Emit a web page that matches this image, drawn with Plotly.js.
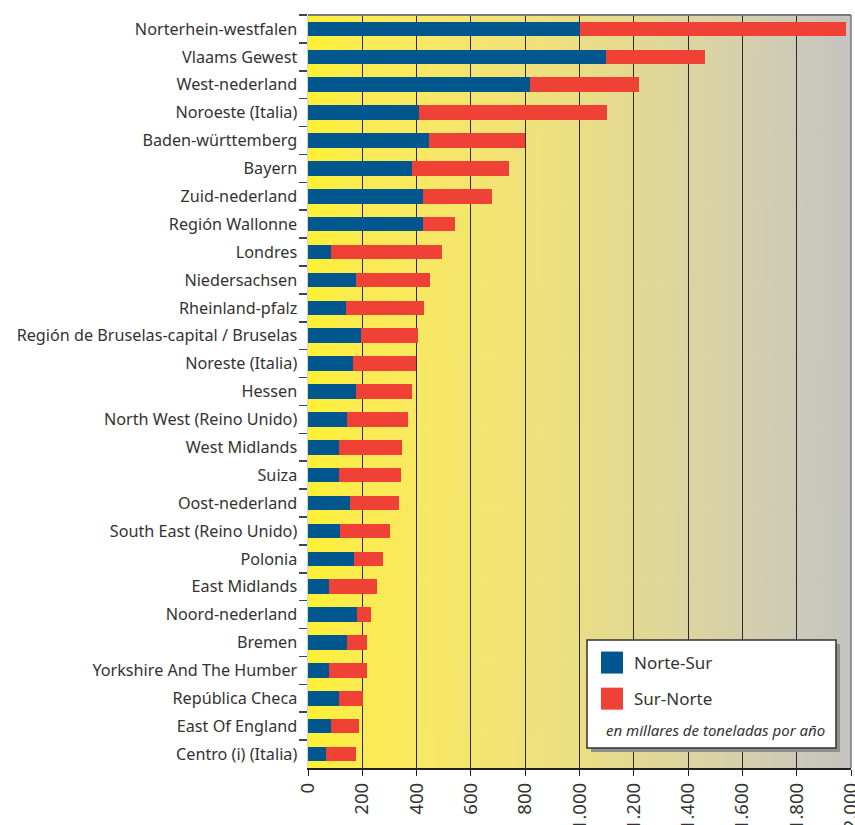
<!DOCTYPE html>
<html>
<head>
<meta charset="utf-8">
<script src="https://cdn.plot.ly/plotly-3.0.1.min.js"></script>
<style>
html,body{margin:0;padding:0;background:#fff;}
#chart{width:855px;height:825px;}
</style>
</head>
<body>
<div id="chart"></div>
<script>
const regions = [
  "Norterhein-westfalen","Vlaams Gewest","West-nederland","Noroeste (Italia)",
  "Baden-württemberg","Bayern","Zuid-nederland","Región Wallonne","Londres",
  "Niedersachsen","Rheinland-pfalz","Región de Bruselas-capital / Bruselas",
  "Noreste (Italia)","Hessen","North West (Reino Unido)","West Midlands","Suiza",
  "Oost-nederland","South East (Reino Unido)","Polonia","East Midlands",
  "Noord-nederland","Bremen","Yorkshire And The Humber","República Checa",
  "East Of England","Centro (i) (Italia)"
];
const norteSur = [1000,1097,816,407,445,382,423,423,85,176,140,195,165,176,143,114,114,154,118,169,77,180,143,77,114,85,66];
const surNorte = [983,367,402,696,354,357,253,117,408,273,286,209,232,206,225,232,228,181,183,107,177,52,74,140,88,103,110];
const seriesNames = ["Norte-Sur","Sur-Norte"];
const xTicks = [0,200,400,600,800,1000,1200,1400,1600,1800,2000];
const note = "en millares de toneladas por año";

// gradient background image (plot area)
const cv = document.createElement('canvas');
cv.width = 543; cv.height = 10;
const ctx = cv.getContext('2d');
const g = ctx.createLinearGradient(0,0,543,0);
g.addColorStop(0.00,'#FFF033');
g.addColorStop(0.08,'#FCEC4E');
g.addColorStop(0.25,'#F6E769');
g.addColorStop(0.45,'#EEE07E');
g.addColorStop(0.65,'#E0D79A');
g.addColorStop(0.85,'#D1CDB2');
g.addColorStop(1.00,'#C4C4C2');
ctx.fillStyle = g; ctx.fillRect(0,0,543,10);
const bgURL = cv.toDataURL('image/png');

const FONT = 'Noto Sans, Liberation Sans, sans-serif';

const traces = [
  {type:'bar', orientation:'h', y:regions, x:norteSur, name:seriesNames[0],
   marker:{color:'#00578E'}, legendgroup:'a', width:0.52, hoverinfo:'x+y'},
  {type:'bar', orientation:'h', y:regions, x:surNorte, name:seriesNames[1],
   marker:{color:'#EF4136'}, legendgroup:'b', width:0.52, hoverinfo:'x+y'}
];

const L = 308, R = 851, T = 15, B = 768, W = 855, H = 825;
const px = v => (v - L) / (R - L);
const py = v => (B - v) / (B - T);

const layout = {
  width: W, height: H,
  margin: {l: L, r: W - R, t: T, b: H - B, pad: 0},
  paper_bgcolor: '#ffffff',
  plot_bgcolor: 'rgba(0,0,0,0)',
  barmode: 'stack',
  separators: ',.',
  font: {family: FONT, color: '#333333', size: 15},
  showlegend: true,
  legend: {
    x: px(594), y: py(645), xanchor: 'left', yanchor: 'top',
    bgcolor: 'rgba(0,0,0,0)', borderwidth: 0,
    font: {size: 17, color: '#333333', family: FONT},
    traceorder: 'grouped', tracegroupgap: 11
  },
  xaxis: {
    range: [0, 2000], tickvals: xTicks, separatethousands: true,
    tickangle: -90, ticks: 'outside', ticklen: 6, tickcolor: '#222',
    tickfont: {size: 18.5, color: '#333333', family: FONT},
    ticklabeloverflow: 'allow',
    showgrid: true, gridcolor: '#2a2a2a', gridwidth: 1,
    showline: true, linecolor: '#222', linewidth: 1.5,
    zeroline: false, fixedrange: true
  },
  yaxis: {
    type: 'category', autorange: 'reversed',
    tickson: 'boundaries', ticks: 'outside', ticklen: 8, tickcolor: '#444', tickwidth: 1.5,
    showgrid: false, showline: true, linecolor: '#cfd4da', linewidth: 1.5,
    tickfont: {size: 16.2, color: '#333333', family: FONT},
    ticklabelstandoff: 6, fixedrange: true
  },
  images: [{
    source: bgURL, xref: 'paper', yref: 'paper', x: 0, y: 1,
    sizex: 1, sizey: 1, sizing: 'stretch', layer: 'below',
    xanchor: 'left', yanchor: 'top'
  }],
  shapes: [
    {type:'line', xref:'paper', yref:'paper', x0:0, x1:1, y0:1, y1:1,
     line:{color:'#7a7a7a', width:2}},
    {type:'line', xref:'paper', yref:'paper', x0:1, x1:1, y0:0, y1:1,
     line:{color:'#7a7a7a', width:1.5}},
    {type:'rect', xref:'paper', yref:'paper', x0:px(591), x1:px(840), y0:py(752), y1:py(644),
     fillcolor:'#8f8f8f', line:{width:0}, layer:'above'},
    {type:'rect', xref:'paper', yref:'paper', x0:px(587), x1:px(836), y0:py(748), y1:py(640),
     fillcolor:'#ffffff', line:{color:'#333333', width:1.5}, layer:'above'}
  ],
  annotations: [{
    text: '<i>' + note + '</i>', xref: 'paper', yref: 'paper',
    x: px(715), y: py(730), xanchor: 'center', yanchor: 'middle',
    showarrow: false, font: {size: 15, color: '#333333', family: FONT}
  }]
};

Plotly.newPlot('chart', traces, layout, {displayModeBar: false, staticPlot: true}).then(() => {
  document.querySelectorAll('#chart .legend .legendpoints path').forEach(p => {
    p.setAttribute('d', 'M9,11H-13V-11H9Z');
    p.style.strokeWidth = '0px';
  });
});
</script>
</body>
</html>
